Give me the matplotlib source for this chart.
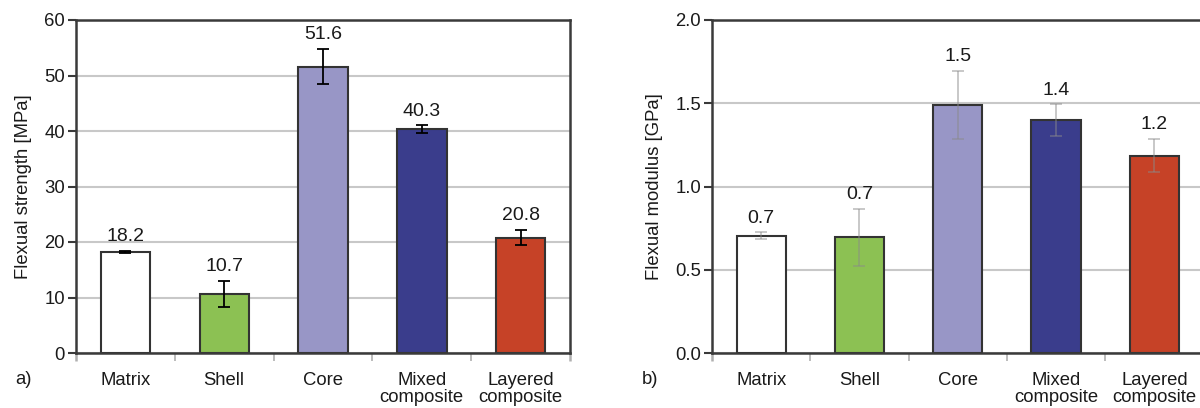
import matplotlib
matplotlib.use("Agg")
import matplotlib.pyplot as plt
import numpy as np

plt.rcParams['font.family'] = ['Liberation Sans', 'DejaVu Sans']

categories = ["Matrix", "Shell", "Core", "Mixed\ncomposite", "Layered\ncomposite"]
bar_colors = ["#ffffff", "#8cc153", "#9896c6", "#3a3d8c", "#c64227"]

strength = [18.2, 10.7, 51.6, 40.3, 20.8]
strength_err = [0.2, 2.35, 3.2, 0.75, 1.4]

modulus = [0.705, 0.695, 1.49, 1.40, 1.185]
modulus_err = [0.02, 0.17, 0.205, 0.095, 0.10]

TEXT = "#1a1a1a"
SPINE = "#3a3a3a"
GRID = "#c8c8c8"
FS = 13.3

fig = plt.figure(figsize=(12, 4.08), dpi=100)

ax_a = fig.add_axes([76 / 1200, 55 / 408, 494 / 1200, 333 / 408])
ax_b = fig.add_axes([712 / 1200, 55 / 408, 491.5 / 1200, 333 / 408])


def draw_panel(ax, values, errors, ymax, ystep, ylabel, fmt, ecolor, ealpha, tickfmt):
    x = np.arange(len(categories))
    ax.set_axisbelow(True)
    ax.yaxis.grid(True, color=GRID, linewidth=1.5)
    ax.bar(x, values, width=0.5, color=bar_colors, edgecolor="#333333",
           linewidth=1.5, zorder=2)
    ax.errorbar(x, values, yerr=errors, fmt="none", ecolor=ecolor,
                elinewidth=1.3, capsize=4.5, capthick=1.3, alpha=ealpha, zorder=3)
    for xi, v, e in zip(x, values, errors):
        ax.annotate(fmt.format(v), (xi, v + e), xytext=(0, 4),
                    textcoords="offset points", ha="center", va="bottom",
                    fontsize=14, color=TEXT)
    ax.set_xlim(-0.5, len(categories) - 0.5)
    ax.set_ylim(0, ymax)
    ticks = np.arange(0, ymax + ystep / 2, ystep)
    ax.set_yticks(ticks)
    ax.set_yticklabels([tickfmt.format(t) for t in ticks])
    ax.set_xticks(x)
    ax.set_xticklabels(categories, fontsize=FS, color=TEXT, linespacing=0.95)
    ax.set_xticks(np.arange(-0.5, len(categories), 1.0), minor=True)
    ax.tick_params(axis="x", which="major", length=0, pad=14)
    ax.tick_params(axis="x", which="minor", length=6, width=1.2, color="#b0b0b0")
    minors = ax.xaxis.get_minor_ticks()
    for t in (minors[0], minors[-1]):
        t.tick1line.set_color(SPINE)
        t.tick1line.set_markeredgewidth(1.8)
    ax.tick_params(axis="y", length=6, width=1.5, color=SPINE, labelsize=FS,
                   labelcolor=TEXT, pad=2)
    for s in ax.spines.values():
        s.set_color(SPINE)
        s.set_linewidth(1.8)
    ax.set_ylabel(ylabel, fontsize=FS, color=TEXT, labelpad=9)


draw_panel(ax_a, strength, strength_err, 60, 10, "Flexual strength [MPa]",
           "{:.1f}", "black", 1.0, "{:.0f}")
draw_panel(ax_b, modulus, modulus_err, 2.0, 0.5, "Flexual modulus [GPa]",
           "{:.1f}", "#8a8a8a", 0.5, "{:.1f}")

fig.text(23 / 1200, 1 - 380 / 408, "a)", fontsize=FS, color=TEXT,
         ha="center", va="center")
fig.text(650 / 1200, 1 - 380 / 408, "b)", fontsize=FS, color=TEXT,
         ha="center", va="center")

fig.savefig("out.png", dpi=100, facecolor="white")
